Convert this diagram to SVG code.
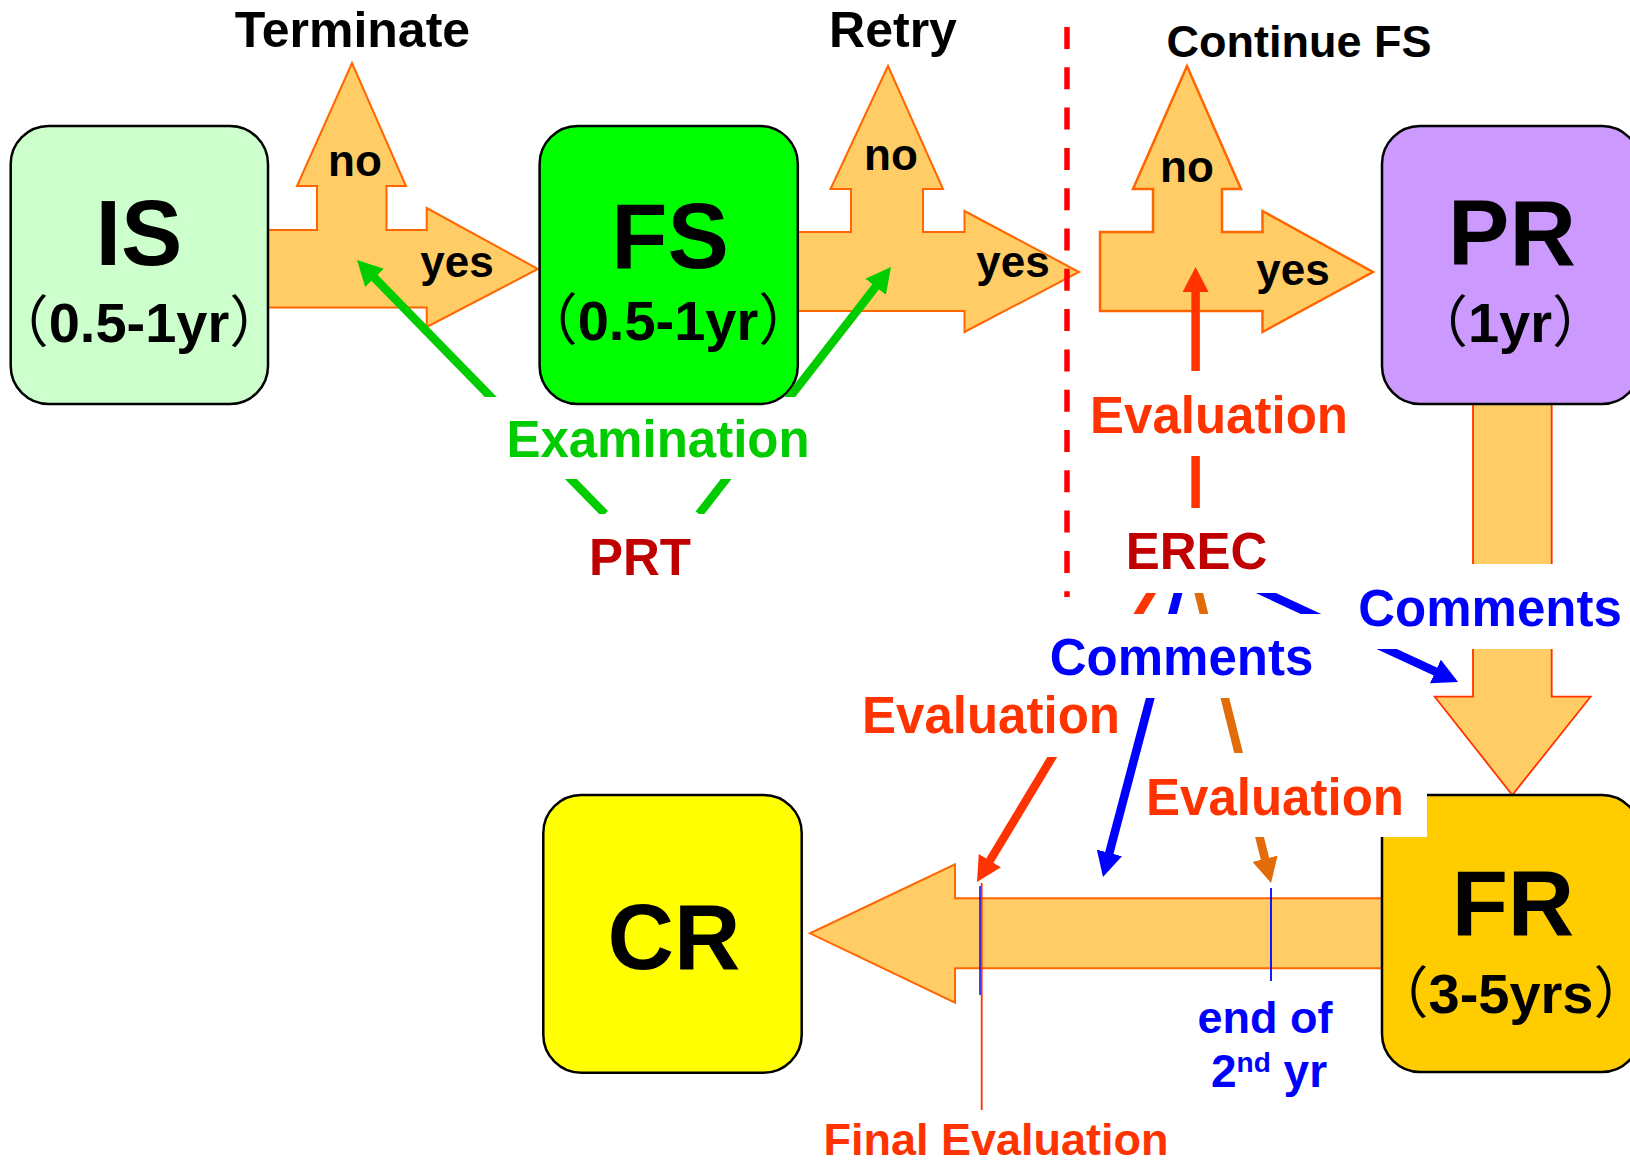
<svg xmlns="http://www.w3.org/2000/svg" width="1630" height="1165" viewBox="0 0 1630 1165">
<style>
text{font-family:"Liberation Sans",Arial,"Noto Sans CJK JP",sans-serif;font-weight:bold;text-anchor:middle}
.big{font-size:92px;fill:#000}
.sub{font-size:56px;fill:#000}
.p{font-weight:normal;font-feature-settings:"halt"}
.lbl{font-size:44px;fill:#000}
.ttl{font-size:50px;fill:#000}
.box{stroke:#000;stroke-width:2.5}
.arr{fill:#FFCC66;stroke:#FF6600;stroke-width:2}
.eval{font-size:51px;fill:#FF3300}
.com{font-size:51px;fill:#0000FF}
.org{font-size:51px;fill:#C00000}
.ln{fill:none;stroke-width:8.5}
</style>
<defs>
<marker id="hG" markerUnits="userSpaceOnUse" markerWidth="25" markerHeight="26" viewBox="0 0 25 26" refX="5" refY="13" orient="auto"><path d="M0,0L25,13L0,26z" fill="#00CC00"/></marker>
<marker id="hR" markerUnits="userSpaceOnUse" markerWidth="25" markerHeight="26" viewBox="0 0 25 26" refX="5" refY="13" orient="auto"><path d="M0,0L25,13L0,26z" fill="#FF3300"/></marker>
<marker id="hB" markerUnits="userSpaceOnUse" markerWidth="25" markerHeight="26" viewBox="0 0 25 26" refX="5" refY="13" orient="auto"><path d="M0,0L25,13L0,26z" fill="#0000FF"/></marker>
<marker id="hO" markerUnits="userSpaceOnUse" markerWidth="25" markerHeight="26" viewBox="0 0 25 26" refX="5" refY="13" orient="auto"><path d="M0,0L25,13L0,26z" fill="#E36C0A"/></marker>
<mask id="tb" maskUnits="userSpaceOnUse" x="0" y="0" width="1630" height="1165">
<rect x="0" y="0" width="1630" height="1165" fill="#fff"/>
<g fill="#000">
<rect x="470" y="397" width="360" height="82"/>
<rect x="560" y="514" width="160" height="90"/>
<rect x="1080" y="371" width="280" height="85"/>
<rect x="1100" y="508" width="190" height="85"/>
<rect x="1000" y="614" width="335" height="84"/>
<rect x="1335" y="564" width="295" height="85"/>
<rect x="850" y="690" width="275" height="67"/>
<rect x="1145" y="753" width="282" height="84"/>
</g>
</mask>
</defs>
<rect width="1630" height="1165" fill="#fff"/>

<g id="flow-arrows">
<polygon class="arr" points="262,230 317,230 317,186 297,186 352,63 406,186 386.5,186 386.5,230 426.7,230 426.7,208 538,269 426.7,327 426.7,307.5 262,307.5"/>
<polygon class="arr" points="792,232 851,232 851,189 830.5,189 888,66 943,189 923,189 923,232 964.5,232 964.5,211 1079,272 964.5,332 964.5,311 792,311"/>
<polygon class="arr" points="1100,232 1153,232 1153,189 1133,189 1187,66 1241,189 1222,189 1222,232 1262.5,232 1262.5,211 1373,272 1262.5,332 1262.5,311 1100,311" style="stroke-width:2.5"/>
<polygon class="arr" points="1473,400 1551.7,400 1551.7,696.7 1590.6,696.7 1512.3,795 1434.7,696.7 1473,696.7" style="stroke:#FF3300;stroke-width:1.8"/>
<polygon class="arr" points="1388,898.3 955,898.3 955,864.3 810,933.3 955,1002.7 955,968.3 1388,968.3"/>
</g>

<g id="node-IS"><rect class="box" x="10.7" y="126" width="257.3" height="278" rx="38" fill="#CCFFCC"/><text class="big" x="139" y="265">IS</text><text class="sub" x="139" y="342"><tspan class="p">（</tspan>0.5-1yr<tspan class="p">）</tspan></text></g>
<g id="node-FS"><rect class="box" x="539.6" y="126" width="258.2" height="278" rx="38" fill="#00FF00"/><text class="big" x="670" y="268">FS</text><text class="sub" x="668" y="340"><tspan class="p">（</tspan>0.5-1yr<tspan class="p">）</tspan></text></g>
<g id="node-PR"><rect class="box" x="1382" y="126" width="258" height="278" rx="38" fill="#CC99FF"/><text class="big" x="1512" y="265">PR</text><text class="sub" x="1510" y="341.7"><tspan class="p">（</tspan>1yr<tspan class="p">）</tspan></text></g>
<g id="node-FR"><rect class="box" x="1382" y="795" width="258" height="277" rx="38" fill="#FFCC00"/><text class="big" x="1513" y="935">FR</text><text class="sub" x="1511" y="1013"><tspan class="p">（</tspan>3-5yrs<tspan class="p">）</tspan></text></g>
<g id="node-CR"><rect class="box" x="543.3" y="795" width="258.4" height="277.7" rx="38" fill="#FFFF00"/><text class="big" x="674" y="969">CR</text></g>

<line x1="1067" y1="27" x2="1067" y2="597" stroke="#FF0000" stroke-width="5.5" stroke-dasharray="22 18.3"/>

<g id="connectors" mask="url(#tb)">
<line class="ln" stroke="#00CC00" stroke-width="8" x1="605" y1="514" x2="371" y2="274.3" marker-end="url(#hG)"/>
<line class="ln" stroke="#00CC00" stroke-width="8" x1="699" y1="514" x2="878.7" y2="282.8" marker-end="url(#hG)"/>
<line class="ln" stroke="#FF3300" x1="1195.6" y1="545" x2="1195.6" y2="287" marker-end="url(#hR)"/>
<line class="ln" stroke="#FF3300" x1="1176.8" y1="550.2" x2="987.3" y2="864.9" marker-end="url(#hR)"/>
<line class="ln" stroke="#0000FF" x1="1190.8" y1="544.6" x2="1108.1" y2="857.7" marker-end="url(#hB)"/>
<line class="ln" stroke="#E36C0A" x1="1186.6" y1="544.5" x2="1266.2" y2="863.6" marker-end="url(#hO)"/>
<line class="ln" stroke="#0000FF" x1="1220.3" y1="572" x2="1439.9" y2="673.6" marker-end="url(#hB)"/>
<line x1="981.7" y1="883" x2="981.7" y2="1110" stroke="#FF3300" stroke-width="1.8"/>
<line x1="980" y1="886" x2="980" y2="995" stroke="#0000FF" stroke-width="1.5"/>
<line x1="1271" y1="888" x2="1271" y2="981" stroke="#0000FF" stroke-width="1.8"/>
</g>

<g id="textbox-bg" fill="#fff">
<rect x="1335" y="564" width="295" height="85"/>
<rect x="1145" y="753" width="282" height="84"/>
</g>

<g id="labels">
<text class="ttl" x="352.5" y="47">Terminate</text>
<text class="ttl" x="893" y="47">Retry</text>
<text class="lbl" x="1299" y="57" style="font-size:45px">Continue FS</text>
<text class="lbl" x="355" y="176">no</text>
<text class="lbl" x="891" y="170">no</text>
<text class="lbl" x="1187" y="182">no</text>
<text class="lbl" x="457" y="277">yes</text>
<text class="lbl" x="1013" y="277">yes</text>
<text class="lbl" x="1293" y="285">yes</text>
<text style="font-size:51px;fill:#00CC00" x="658" y="457">Examination</text>
<text class="org" x="640" y="575">PRT</text>
<text class="eval" x="1219" y="433">Evaluation</text>
<text class="org" x="1196.5" y="569">EREC</text>
<text class="com" x="1181.5" y="675">Comments</text>
<text class="com" x="1490" y="626">Comments</text>
<text class="eval" x="991" y="733">Evaluation</text>
<text class="eval" x="1275" y="815">Evaluation</text>
<text class="eval" x="996" y="1155" style="font-size:45px">Final Evaluation</text>
<text style="font-size:45px;fill:#0000FF" x="1265" y="1033">end of</text>
<text style="font-size:46px;fill:#0000FF;text-anchor:start" x="1211" y="1087">2<tspan style="font-size:28px" dy="-15">nd</tspan><tspan dy="15"> yr</tspan></text>
</g>
</svg>
